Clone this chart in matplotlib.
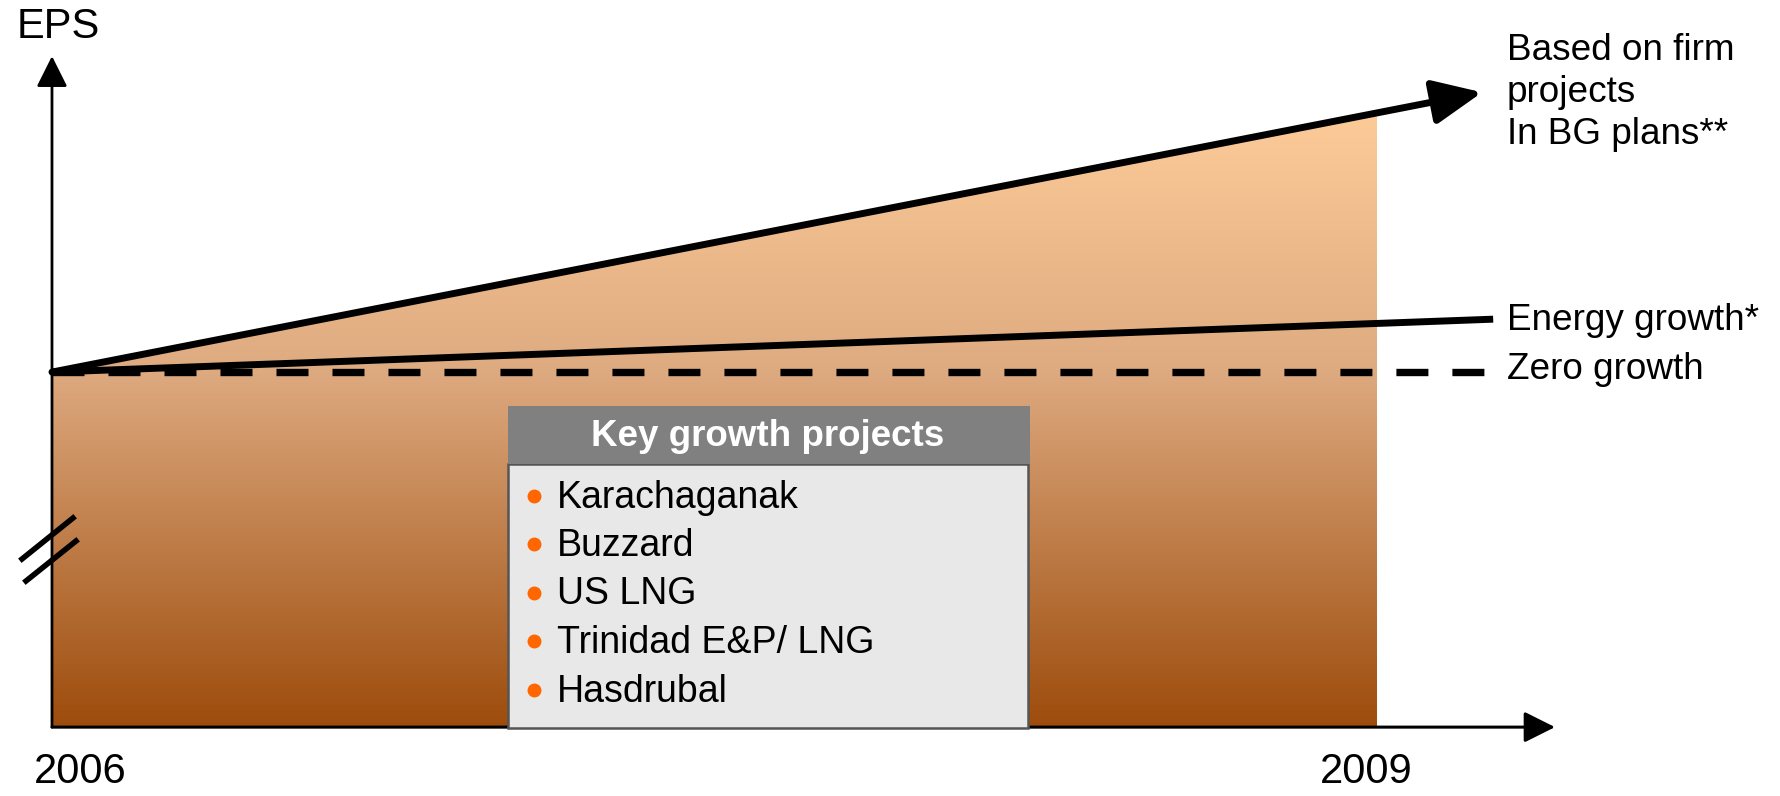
import matplotlib
matplotlib.use('Agg')
import matplotlib.pyplot as plt
import numpy as np
from matplotlib.patches import Polygon, Rectangle
from matplotlib.lines import Line2D

plt.rcParams['font.family'] = ['Liberation Sans', 'DejaVu Sans']

# data
years = [2006, 2009]
firm_eps = [100, 173]      # based on firm projects in BG plans
energy_eps = [100, 113.7]  # energy growth
zero_eps = [100, 100]      # zero growth
base = 0
projects = ['Karachaganak', 'Buzzard', 'US LNG', 'Trinidad E&P/ LNG', 'Hasdrubal']
line_labels = ['Based on firm\nprojects\nIn BG plans**', 'Energy growth*', 'Zero growth']

W, H = 1780, 796
fig = plt.figure(figsize=(W / 100, H / 100), dpi=100)
ax = fig.add_axes([0, 0, 1, 1])
ax.set_xlim(2005.8823, 2009.9124)
ax.set_ylim(-19.4, 204.8)
ax.axis('off')


def px(x, y):
    # pixel position (from top-left) -> figure fraction
    return x / W, 1 - y / H


def extend(xs, ys, dx):
    slope = (ys[1] - ys[0]) / (xs[1] - xs[0])
    return xs[1] + dx, ys[1] + slope * dx


# gradient fill under the firm projects line
poly = Polygon([(years[0], base), (years[0], firm_eps[0]), (years[1], firm_eps[1]), (years[1], base)],
               closed=True, facecolor='none', edgecolor='none')
ax.add_patch(poly)
stops = [0, 0.42, 1.0]
cols = np.array([[253, 203, 152], [222, 170, 128], [157, 76, 12]]) / 255.0
t = np.linspace(0, 1, 400)
grad = np.stack([np.interp(t, stops, cols[:, k]) for k in range(3)], axis=1)[:, None, :]
im = ax.imshow(grad, extent=[years[0], years[1], base, max(firm_eps)], aspect='auto',
               origin='upper', zorder=1)
im.set_clip_path(poly)

# axes with arrows
small_head = '-|>,head_length=1.0,head_width=0.5'
ax.annotate('', xy=(years[0], 189), xytext=(years[0], base),
            arrowprops=dict(arrowstyle=small_head, lw=2, color='black', shrinkA=0, shrinkB=0,
                            mutation_scale=19), zorder=3)
ax.annotate('', xy=(2009.403, base), xytext=(years[0], base),
            arrowprops=dict(arrowstyle=small_head, lw=2.2, color='black', shrinkA=0, shrinkB=0,
                            mutation_scale=19), zorder=3)

# lines
fx, fy = extend(years, firm_eps, 0.238)
ax.annotate('', xy=(fx, fy), xytext=(years[0], firm_eps[0]),
            arrowprops=dict(arrowstyle='-|>,head_length=1.0,head_width=0.45', lw=5, color='black',
                            shrinkA=0, shrinkB=0, mutation_scale=30), zorder=5)
ex, ey = extend(years, energy_eps, 0.263)
ax.plot([years[0], ex], [energy_eps[0], ey], color='black', lw=5, solid_capstyle='butt', zorder=5)
zx, zy = extend(years, zero_eps, 0.245)
ax.plot([years[0], zx], [zero_eps[0], zy], color='black', lw=5.3, linestyle=(0, (4.347, 3.26)), zorder=5)

# axis break marks
for (x1, y1, x2, y2) in [(22, 559, 73, 518), (26, 581, 76, 541)]:
    a, b = px(x1, y1)
    c, d = px(x2, y2)
    fig.add_artist(Line2D([a, c], [b, d], color='black', lw=4, zorder=6))

# key growth projects box
x0, y0 = px(508, 464)
x1, y1 = px(1028, 728)
fig.add_artist(Rectangle((x0, y1), x1 - x0, y0 - y1, facecolor='#e8e8e8', edgecolor='#555555',
                         lw=1.8, zorder=7))
hx0, hy0 = px(508, 406)
hx1, hy1 = px(1030, 464)
fig.add_artist(Rectangle((hx0, hy1), hx1 - hx0, hy0 - hy1, facecolor='#808080', edgecolor='none',
                         zorder=8))
fig.text(*px(768, 437), 'Key growth projects', color='white', fontsize=26.5, fontweight='bold',
         ha='center', va='center', zorder=9)
for i, p in enumerate(projects):
    yy = 497.5 + 48.5 * i
    fig.text(*px(557, yy), p, fontsize=27, ha='left', va='center', zorder=9)
    bx, by = px(534, yy - 2)
    fig.add_artist(Line2D([bx], [by], marker='o', markersize=9, color='#ff6600', lw=0, zorder=9))

# labels
fig.text(*px(17, 27), 'EPS', fontsize=30, ha='left', va='center')
fig.text(*px(80, 772), '2006', fontsize=30, ha='center', va='center')
fig.text(*px(1366, 772), '2009', fontsize=30, ha='center', va='center')
for k, ln in enumerate(line_labels[0].split('\n')):
    fig.text(*px(1507, 51 + 41.5 * k), ln, fontsize=26.6, ha='left', va='center')
fig.text(*px(1507, 321), line_labels[1], fontsize=26.6, ha='left', va='center')
fig.text(*px(1507, 370), line_labels[2], fontsize=26.6, ha='left', va='center')

fig.savefig('out.png', dpi=100)
